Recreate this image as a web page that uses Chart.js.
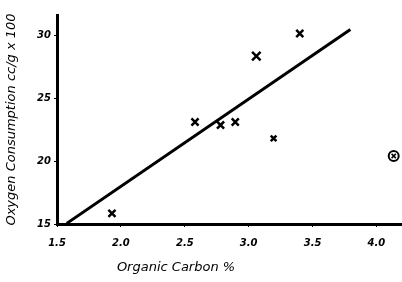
<!DOCTYPE html>
<html>
<head>
<meta charset="utf-8">
<script src="https://cdn.jsdelivr.net/npm/chart.js@4"></script>
<style>
  html, body { margin: 0; padding: 0; background: #fff; }
  #wrap { width: 402px; height: 282px; position: relative; }
</style>
</head>
<body>
<div id="wrap"><canvas id="myChart"></canvas></div>
<script>
const carbonX = [1.93, 2.58, 2.78, 2.895, 3.06, 3.195, 3.40];
const oxygenY = [15.85, 23.1, 22.86, 23.1, 28.33, 21.8, 30.13];
const outlierX = [4.135];
const outlierY = [20.4];
const fitX = [1.576, 3.796];
const fitY = [15.05, 30.45];
const xTicks = [1.5, 2.0, 2.5, 3.0, 3.5, 4.0];
const yTicks = [15, 20, 25, 30];

const ctx = document.getElementById('myChart');
const handFont = { family: 'DejaVu Sans', style: 'italic', weight: 'bold', size: 10 };

const toPts = (xs, ys) => xs.map((x, i) => ({x: x, y: ys[i]}));

// x title sits left of centre in the original, so draw it by hand
const xTitle = {
    id: 'xTitle',
    afterDraw(chart) {
        const {ctx} = chart;
        ctx.save();
        ctx.font = 'italic 13px "DejaVu Sans"';
        ctx.fillStyle = '#000';
        ctx.textAlign = 'center';
        ctx.textBaseline = 'middle';
        ctx.fillText('Organic Carbon %', 176, 268);
        ctx.restore();
    }
}

new Chart(ctx, {
  data: {
    datasets: [
      {
        type: 'line',
        data: toPts(fitX, fitY),
        borderColor: '#000',
        borderWidth: 3,
        pointRadius: 0,
        order: 1
      },
      {
        type: 'scatter',
        data: toPts(carbonX, oxygenY),
        pointStyle: 'crossRot',
        pointRadius: [5, 5, 5, 5, 6, 4, 5],
        borderColor: '#000',
        borderWidth: 2.5,
        order: 2
      },
      {
        // cross inside the circled outlier, drawn on top
        type: 'scatter',
        data: toPts(outlierX, outlierY),
        pointStyle: 'crossRot',
        pointRadius: 3,
        borderColor: '#000',
        borderWidth: 1.5,
        order: 3
      },
      {
        type: 'scatter',
        data: toPts(outlierX, outlierY),
        pointStyle: 'circle',
        pointRadius: 5,
        backgroundColor: '#fff',
        borderColor: '#000',
        borderWidth: 2,
        order: 4
      }
    ]
  },
  plugins: [xTitle],
  options: {
    responsive: true,
    maintainAspectRatio: false,
    animation: false,
    layout: { autoPadding: false, padding: { top: 15, right: 0, left: 0, bottom: 0 } },
    plugins: { legend: { display: false }, tooltip: { enabled: false } },
    scales: {
      x: {
        type: 'linear',
        min: 1.5,
        max: 4.2,
        afterBuildTicks: s => { s.ticks = xTicks.map(v => ({value: v})); },
        afterFit: s => { s.height = 58; s.paddingLeft = 0; s.paddingRight = 0; },
        border: { display: true, color: '#000', width: 3 },
        grid: { drawOnChartArea: false, drawTicks: true, tickLength: 3, color: '#000' },
        ticks: {
          color: '#000',
          font: handFont,
          padding: 10,
          maxRotation: 0,
          callback: v => v.toFixed(1)
        }
      },
      y: {
        type: 'linear',
        min: 15,
        max: 31.6,
        afterBuildTicks: s => { s.ticks = yTicks.map(v => ({value: v})); },
        afterFit: s => { s.width = 57; s.paddingTop = 0; s.paddingBottom = 0; },
        border: { display: true, color: '#000', width: 3 },
        grid: { drawOnChartArea: false, drawTicks: true, tickLength: 3, color: '#000' },
        ticks: {
          color: '#000',
          font: handFont,
          padding: 3
        },
        title: {
          display: true,
          text: 'Oxygen Consumption cc/g x 100',
          color: '#000',
          font: { family: 'DejaVu Sans', style: 'italic', size: 13 },
          padding: { bottom: 1 }
        }
      }
    }
  }
});
</script>
</body>
</html>
